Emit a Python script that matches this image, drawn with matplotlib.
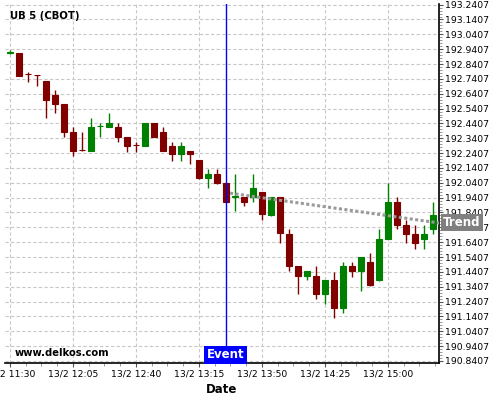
import matplotlib
matplotlib.use("Agg")
import matplotlib.pyplot as plt
from matplotlib.ticker import AutoMinorLocator, FixedLocator
import numpy as np

# 5-minute candles, 13/2 11:30 .. 15:25
opens = [192.918, 192.913, 192.776, 192.768, 192.727, 192.633, 192.572, 192.383,
         192.263, 192.258, 192.423, 192.419, 192.417, 192.348, 192.298, 192.291,
         192.442, 192.381, 192.289, 192.233, 192.256, 192.195, 192.076, 192.101,
         192.042, 191.946, 191.944, 191.948, 191.977, 191.825, 191.944, 191.697,
         191.481, 191.416, 191.414, 191.295, 191.387, 191.200, 191.481, 191.447,
         191.508, 191.387, 191.663, 191.912, 191.757, 191.697, 191.663, 191.732]
highs = [192.932, 192.913, 192.786, 192.768, 192.727, 192.666, 192.572, 192.415,
         192.381, 192.476, 192.442, 192.509, 192.442, 192.348, 192.318, 192.442,
         192.442, 192.415, 192.318, 192.318, 192.256, 192.195, 192.132, 192.132,
         192.042, 192.099, 191.944, 192.099, 191.977, 191.944, 191.944, 191.728,
         191.481, 191.447, 191.481, 191.387, 191.443, 191.506, 191.506, 191.542,
         191.567, 191.728, 192.038, 191.944, 191.791, 191.755, 191.755, 191.910]
lows = [192.909, 192.760, 192.722, 192.693, 192.476, 192.509, 192.348, 192.224,
        192.258, 192.258, 192.348, 192.417, 192.318, 192.251, 192.251, 192.291,
        192.350, 192.258, 192.190, 192.190, 192.166, 192.067, 192.004, 192.033,
        191.914, 191.852, 191.885, 191.910, 191.791, 191.820, 191.634, 191.447,
        191.291, 191.387, 191.257, 191.223, 191.129, 191.163, 191.409, 191.315,
        191.346, 191.382, 191.663, 191.728, 191.634, 191.598, 191.598, 191.695]
closes = [192.921, 192.763, 192.772, 192.765, 192.601, 192.574, 192.386, 192.258,
          192.260, 192.415, 192.426, 192.442, 192.352, 192.291, 192.295, 192.442,
          192.352, 192.258, 192.233, 192.289, 192.233, 192.076, 192.101, 192.042,
          191.914, 191.949, 191.914, 192.004, 191.829, 191.944, 191.701, 191.483,
          191.416, 191.447, 191.295, 191.387, 191.200, 191.481, 191.450, 191.542,
          191.353, 191.663, 191.912, 191.757, 191.699, 191.638, 191.697, 191.825]

xtick_pos = [0, 7, 14, 21, 28, 35, 42]
xtick_labels = ["13/2 11:30", "13/2 12:05", "13/2 12:40", "13/2 13:15",
                "13/2 13:50", "13/2 14:25", "13/2 15:00"]
event_index = 24
trend_x = [24.45, 47.7]
trend_y = [191.971, 191.770]

fig = plt.figure(figsize=(5, 4), dpi=100)
ax = fig.add_axes([0.0106, 0.0925, 0.8674, 0.8975])

n = len(opens)
x = np.arange(n)
up = np.array(closes) >= np.array(opens)
colors = np.where(up, "#008000", "#800000")

ax.vlines(x, lows, highs, colors=colors, linewidth=1.0, zorder=3)
bottoms = np.minimum(opens, closes)
heights = np.abs(np.array(closes) - np.array(opens))
ax.bar(x, heights, bottom=bottoms, width=0.72, color=colors,
       edgecolor=colors, linewidth=0.8, zorder=4)

ax.plot(trend_x, trend_y, color="#9a9a9a", linewidth=2.2,
        linestyle=(0, (1, 0.8)), zorder=5)

ax.axvline(event_index, color="#0000ff", linewidth=1.0, zorder=6)

ax.set_xlim(-0.52, 47.67)
ax.set_ylim(190.827, 193.245)

yt = np.round(190.8407 + 0.1 * np.arange(25), 4)
ax.set_yticks(yt)
ax.set_yticklabels([f"{v:.4f}" for v in yt])
ax.yaxis.tick_right()
ax.yaxis.set_minor_locator(AutoMinorLocator(5))
ax.set_xticks(xtick_pos)
ax.set_xticklabels(xtick_labels)
ax.xaxis.set_minor_locator(AutoMinorLocator(4))

ax.tick_params(axis="both", which="major", labelsize=6.7, length=3, width=0.8,
               pad=1.5, color="#555555")
ax.tick_params(axis="both", which="minor", length=1.8, width=0.6, color="#888888")

for s in ["left", "top"]:
    ax.spines[s].set_visible(False)
for s in ["right", "bottom"]:
    ax.spines[s].set_linewidth(1.2)
    ax.spines[s].set_color("black")

ax.grid(True, which="major", color="#c8c8c8", linestyle=(0, (3, 2)), linewidth=0.8)
ax.set_axisbelow(True)

fig.text(0.02, 0.961, "UB 5 (CBOT)", fontsize=7.3, fontweight="bold",
         ha="left", va="center")
fig.text(0.03, 0.1175, "www.delkos.com", fontsize=7.2, fontweight="bold",
         ha="left", va="center")
fig.text(0.444, 0.027, "Date", fontsize=8.5, fontweight="bold",
         ha="center", va="center")

fig.text(0.451, 0.1125, "Event", fontsize=8.5, fontweight="bold", color="white",
         ha="center", va="center",
         bbox=dict(boxstyle="square,pad=0.2", facecolor="#0000ff", edgecolor="none"))
fig.text(0.924, 0.4435, "Trend", fontsize=8.5, fontweight="bold", color="white",
         ha="center", va="center", zorder=10,
         bbox=dict(boxstyle="square,pad=0.15", facecolor="#808080", edgecolor="none"))

fig.savefig("out.png", dpi=100)
